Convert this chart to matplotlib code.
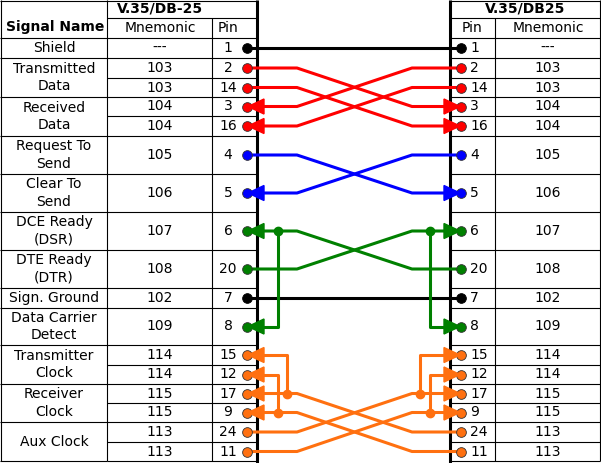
import matplotlib.pyplot as plt

# table rows (left connector and right connector share the row order)
left_pins = ['1', '2', '14', '3', '16', '4', '5', '6', '20', '7', '8', '15', '12', '17', '9', '24', '11']
right_pins = left_pins
mnemonics = ['---', '103', '103', '104', '104', '105', '106', '107', '108', '102', '109',
             '114', '114', '115', '115', '113', '113']
row_tops = [38, 58, 78, 97, 116, 136, 174, 212, 250, 288, 308, 345, 365, 384, 403, 422, 442, 461]
# signal names: (label, first row, last row)
signal_names = [('Shield', 0, 0), ('Transmitted\nData', 1, 2), ('Received\nData', 3, 4),
                ('Request To\nSend', 5, 5), ('Clear To\nSend', 6, 6), ('DCE Ready\n(DSR)', 7, 7),
                ('DTE Ready\n(DTR)', 8, 8), ('Sign. Ground', 9, 9), ('Data Carrier\nDetect', 10, 10),
                ('Transmitter\nClock', 11, 12), ('Receiver\nClock', 13, 14), ('Aux Clock', 15, 16)]

# wires: (from pin, to pin, direction 'lr' = left->right, colour, branch pin, branch x)
wires = [
    ('1', '1', None, 'black', None, None),
    ('7', '7', None, 'black', None, None),
    ('2', '3', 'lr', '#ff0000', None, None),
    ('14', '16', 'lr', '#ff0000', None, None),
    ('2', '3', 'rl', '#ff0000', None, None),
    ('14', '16', 'rl', '#ff0000', None, None),
    ('4', '5', 'lr', '#0000ff', None, None),
    ('4', '5', 'rl', '#0000ff', None, None),
    ('20', '6', 'lr', '#008000', '8', 430),
    ('20', '6', 'rl', '#008000', '8', 278),
    ('24', '17', 'lr', '#ff7010', '15', 420),
    ('11', '9', 'lr', '#ff7010', '12', 430),
    ('24', '17', 'rl', '#ff7010', '15', 287),
    ('11', '9', 'rl', '#ff7010', '12', 278),
]

W, H = 601, 463
fig = plt.figure(figsize=(W / 100, H / 100), dpi=100)
ax = fig.add_axes([0, 0, 1, 1])
ax.set_xlim(0, W)
ax.set_ylim(H, 0)
ax.axis('off')

FS = 10
ycen = {p: (row_tops[i] + row_tops[i + 1]) / 2 for i, p in enumerate(left_pins)}
LX, RX = 247, 461     # dot positions
LB, RB = 297, 412     # bend positions


def hline(x0, x1, y, lw=0.8):
    ax.plot([x0, x1], [y, y], color='black', lw=lw, solid_capstyle='butt')


def vline(x, y0, y1, lw=0.8):
    ax.plot([x, x], [y0, y1], color='black', lw=lw, solid_capstyle='butt')


# ---- left table ----
hline(0, 257, 0.5)
hline(107, 257, 18)
hline(0, 257, 38)
vline(0.5, 0, 461)
vline(107, 0, 461)
vline(212, 18, 461)
ax.text(160, 9, 'V.35/DB-25', ha='center', va='center', fontsize=FS, fontweight='bold')
ax.text(55, 27, 'Signal Name', ha='center', va='center', fontsize=FS, fontweight='bold')
ax.text(160, 28, 'Mnemonic', ha='center', va='center', fontsize=FS)
ax.text(228, 28, 'Pin', ha='center', va='center', fontsize=FS)

# ---- right table ----
hline(450, 600, 0.5)
hline(450, 600, 18)
hline(450, 600, 38)
vline(495, 18, 461)
vline(600, 0, 461)
ax.text(525, 9, 'V.35/DB25', ha='center', va='center', fontsize=FS, fontweight='bold')
ax.text(472, 28, 'Pin', ha='center', va='center', fontsize=FS)
ax.text(548, 28, 'Mnemonic', ha='center', va='center', fontsize=FS)

for i, (pin, mn) in enumerate(zip(left_pins, mnemonics)):
    yc = ycen[pin]
    hline(107, 257, row_tops[i + 1])
    hline(450, 600, row_tops[i + 1])
    ax.text(160, yc, mn, ha='center', va='center', fontsize=FS)
    ax.text(548, yc, mn, ha='center', va='center', fontsize=FS)
    ax.text(228, yc, pin, ha='center', va='center', fontsize=FS)
    ax.text(470, yc, right_pins[i], ha='left', va='center', fontsize=FS)

for label, r0, r1 in signal_names:
    hline(0, 107, row_tops[r1 + 1])
    ax.text(54, (row_tops[r0] + row_tops[r1 + 1]) / 2, label, ha='center', va='center',
            fontsize=FS, linespacing=1.3)

vline(257, 0, 463, lw=2.2)
vline(450, 0, 463, lw=2.2)


def arrow(x, y, direction, color):
    # filled triangle ending at the dot
    if direction == 'left':
        pts = [(LX + 1, y), (LX + 17, y - 7.5), (LX + 17, y + 7.5)]
    else:
        pts = [(RX - 1, y), (RX - 17, y - 7.5), (RX - 17, y + 7.5)]
    ax.add_patch(plt.Polygon(pts, closed=True, color=color, zorder=7))


pin_color = {}
for a, b, d, c, bp, bx in wires:
    ya, yb = ycen[a], ycen[b]
    if d is None:
        ax.plot([LX, RX], [ya, ya], color=c, lw=2.2, zorder=3)
        pin_color[('L', a)] = c
        pin_color[('R', a)] = c
        continue
    if d == 'lr':
        pin_color[('L', a)] = c
        pin_color[('R', b)] = c
        ax.plot([LX, LB, RB, RX], [ya, ya, yb, yb], color=c, lw=2.2, zorder=3)
        arrow(RX, yb, 'right', c)
        if bp:
            yb2 = ycen[bp]
            ax.plot([bx, bx, RX], [yb, yb2, yb2], color=c, lw=2.2, zorder=3)
            ax.plot(bx, yb, 'o', color=c, ms=6, zorder=5)
            arrow(RX, yb2, 'right', c)
            pin_color[('R', bp)] = c
    else:
        pin_color[('R', a)] = c
        pin_color[('L', b)] = c
        ax.plot([RX, RB, LB, LX], [ya, ya, yb, yb], color=c, lw=2.2, zorder=3)
        arrow(LX, yb, 'left', c)
        if bp:
            yb2 = ycen[bp]
            ax.plot([bx, bx, LX], [yb, yb2, yb2], color=c, lw=2.2, zorder=3)
            ax.plot(bx, yb, 'o', color=c, ms=6, zorder=5)
            arrow(LX, yb2, 'left', c)
            pin_color[('L', bp)] = c

for (side, pin), c in pin_color.items():
    x = LX if side == 'L' else RX
    ax.plot(x, ycen[pin], 'o', color=c, mec='#333333' if c != 'black' else 'black',
            mew=0.6, ms=7, zorder=6)

fig.savefig('out.png', dpi=100)
